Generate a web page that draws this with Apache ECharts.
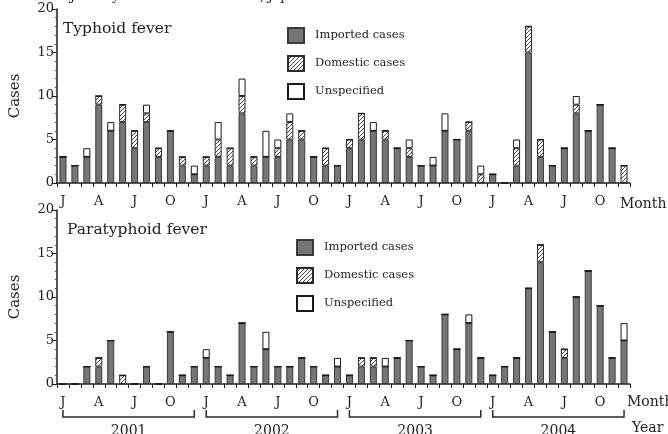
<!DOCTYPE html>
<html><head><meta charset="utf-8">
<script src="https://cdn.jsdelivr.net/npm/echarts@6/dist/echarts.min.js"></script>
<style>html,body{margin:0;padding:0;background:#fff}#c{width:668px;height:434px}</style>
</head><body><div id="c"></div>
<script>
// ---- data ----
const years = ['2001', '2002', '2003', '2004'];
const monthLetters = ['J','F','M','A','M','J','J','A','S','O','N','D'];
const shownMonths = [0, 3, 6, 9]; // J, A, J, O
const seriesNames = ['Imported cases', 'Domestic cases', 'Unspecified'];

const typhoidImported = [
  3,2,3,9,6,7,4,7,3,6,2,1,
  2,3,2,8,2,3,3,5,5,3,2,2,
  4,5,6,5,4,3,2,2,6,5,6,0,
  1,0,2,15,3,2,4,8,6,9,4,0
];
const typhoidDomestic = [
  0,0,0,1,0,2,2,1,1,0,1,0,
  1,2,2,2,1,0,1,2,1,0,2,0,
  1,3,0,1,0,1,0,0,0,0,1,1,
  0,0,2,3,2,0,0,1,0,0,0,2
];
const typhoidUnspecified = [
  0,0,1,0,1,0,0,1,0,0,0,1,
  0,2,0,2,0,3,1,1,0,0,0,0,
  0,0,1,0,0,1,0,1,2,0,0,1,
  0,0,1,0,0,0,0,1,0,0,0,0
];
const paraImported = [
  0,0,2,2,5,0,0,2,0,6,1,2,
  3,2,1,7,2,4,2,2,3,2,1,2,
  1,2,2,2,3,5,2,1,8,4,7,3,
  1,2,3,11,14,6,3,10,13,9,3,5
];
const paraDomestic = [
  0,0,0,1,0,1,0,0,0,0,0,0,
  0,0,0,0,0,0,0,0,0,0,0,0,
  0,1,1,0,0,0,0,0,0,0,0,0,
  0,0,0,0,2,0,1,0,0,0,0,0
];
const paraUnspecified = [
  0,0,0,0,0,0,0,0,0,0,0,0,
  1,0,0,0,0,2,0,0,0,0,0,1,
  0,0,0,1,0,0,0,0,0,0,1,0,
  0,0,0,0,0,0,0,0,0,0,0,2
];
const yTicks = [0, 5, 10, 15, 20];

// ---- build ----
const categories = [];
years.forEach(y => monthLetters.forEach((m, i) => categories.push(y + '-' + (i + 1))));

const FONT = '"DejaVu Serif", serif';
const INK = '#1e1e1e';

function hatchCanvas() {
  const c = document.createElement('canvas');
  c.width = 4; c.height = 4;
  const g = c.getContext('2d');
  g.fillStyle = '#fff'; g.fillRect(0, 0, 4, 4);
  g.strokeStyle = '#4a4a4a'; g.lineWidth = 1;
  g.beginPath();
  g.moveTo(0, 4); g.lineTo(4, 0);
  g.moveTo(-1, 1); g.lineTo(1, -1);
  g.moveTo(3, 5); g.lineTo(5, 3);
  g.stroke();
  return c;
}
const hatch = hatchCanvas();
const styles = [
  { color: '#767676', borderColor: '#3a3a3a', borderWidth: 1 },
  { color: { image: hatch, repeat: 'repeat' }, borderColor: '#2a2a2a', borderWidth: 1 },
  { color: '#ffffff', borderColor: '#1a1a1a', borderWidth: 1 }
];

function mkSeries(idx, arrs) {
  return arrs.map((d, k) => ({
    type: 'bar', name: seriesNames[k], data: d,
    xAxisIndex: idx, yAxisIndex: idx, stack: 'p' + idx,
    barWidth: 7, itemStyle: styles[k],
    emphasis: { disabled: true }
  }));
}

function xAxis(gi) {
  return {
    type: 'category', gridIndex: gi, data: categories, boundaryGap: true,
    axisLine: { lineStyle: { color: INK, width: 1.5 } },
    axisTick: { show: true, interval: 0, length: 4, lineStyle: { color: INK, width: 1 } },
    axisLabel: {
      interval: 0, margin: 12, fontFamily: FONT, fontSize: 13, color: INK,
      formatter: (v, i) => shownMonths.indexOf(i % 12) >= 0 ? monthLetters[i % 12] : ''
    },
    splitLine: { show: false }
  };
}
function yAxis(gi) {
  return {
    type: 'value', gridIndex: gi, min: yTicks[0], max: yTicks[yTicks.length - 1], interval: 5,
    name: 'Cases', nameLocation: 'middle', nameGap: 34,
    nameTextStyle: { fontFamily: FONT, fontSize: 15, color: INK },
    axisLine: { show: true, lineStyle: { color: INK, width: 1.5 } },
    axisTick: { show: true, length: 5, lineStyle: { color: INK, width: 1 } },
    minorTick: { show: true, splitNumber: 5, length: 2, lineStyle: { color: '#444', width: 1 } },
    axisLabel: { margin: 3, fontFamily: FONT, fontSize: 13, color: INK },
    splitLine: { show: false }
  };
}
const legendBase = {
  orient: 'vertical', itemWidth: 16, itemHeight: 15, itemGap: 11, icon: 'rect',
  selectedMode: false, data: seriesNames, padding: 0,
  textStyle: { fontFamily: FONT, fontSize: 11.5, color: INK, padding: [0, 0, 0, 6] }
};
const titleStyle = { fontFamily: FONT, fontSize: 15.5, fontWeight: 'normal', color: INK };

const chart = echarts.init(document.getElementById('c'), null, { renderer: 'canvas' });
chart.setOption({
  animation: false,
  backgroundColor: '#fff',
  title: [
    { text: 'January 2001-December 2004, Japan', left: 70, top: -10, padding: 0,
      textStyle: { fontFamily: FONT, fontSize: 12.5, fontWeight: 'normal', color: INK } },
    { text: 'Typhoid fever', left: 63, top: 21, padding: 0, textStyle: titleStyle },
    { text: 'Paratyphoid fever', left: 67, top: 222, padding: 0, textStyle: titleStyle }
  ],
  legend: [
    Object.assign({ left: 287, top: 27 }, legendBase),
    Object.assign({ left: 296, top: 239 }, legendBase)
  ],
  grid: [
    { left: 50, top: 9, width: 580, height: 174 },
    { left: 50, top: 210, width: 580, height: 174 }
  ],
  xAxis: [xAxis(0), xAxis(1)],
  yAxis: [yAxis(0), yAxis(1)],
  series: [
    ...mkSeries(0, [typhoidImported, typhoidDomestic, typhoidUnspecified]),
    ...mkSeries(1, [paraImported, paraDomestic, paraUnspecified])
  ]
});

// month/year annotations derived from axis scale
const graphics = [];
const txt = (s, x, y, align, size) => ({
  type: 'text', x, y, silent: true,
  style: { text: s, fontFamily: FONT, fontSize: size, fill: INK, align, verticalAlign: 'middle' }
});
graphics.push(txt('Month', 620, 204, 'left', 14));
graphics.push(txt('Month', 627, 402, 'left', 14));
graphics.push(txt('Year', 632, 428, 'left', 14));
years.forEach((y, k) => {
  const x1 = chart.convertToPixel({ xAxisIndex: 1 }, k * 12);
  const x2 = chart.convertToPixel({ xAxisIndex: 1 }, k * 12 + 11);
  graphics.push({
    type: 'polyline', silent: true,
    shape: { points: [[x1, 410], [x1, 417], [x2, 417], [x2, 410]] },
    style: { stroke: '#2a2a2a', lineWidth: 1.5, fill: null }
  });
  graphics.push(txt(y, (x1 + x2) / 2, 431, 'center', 14));
});
chart.setOption({ graphic: graphics });
</script></body></html>
